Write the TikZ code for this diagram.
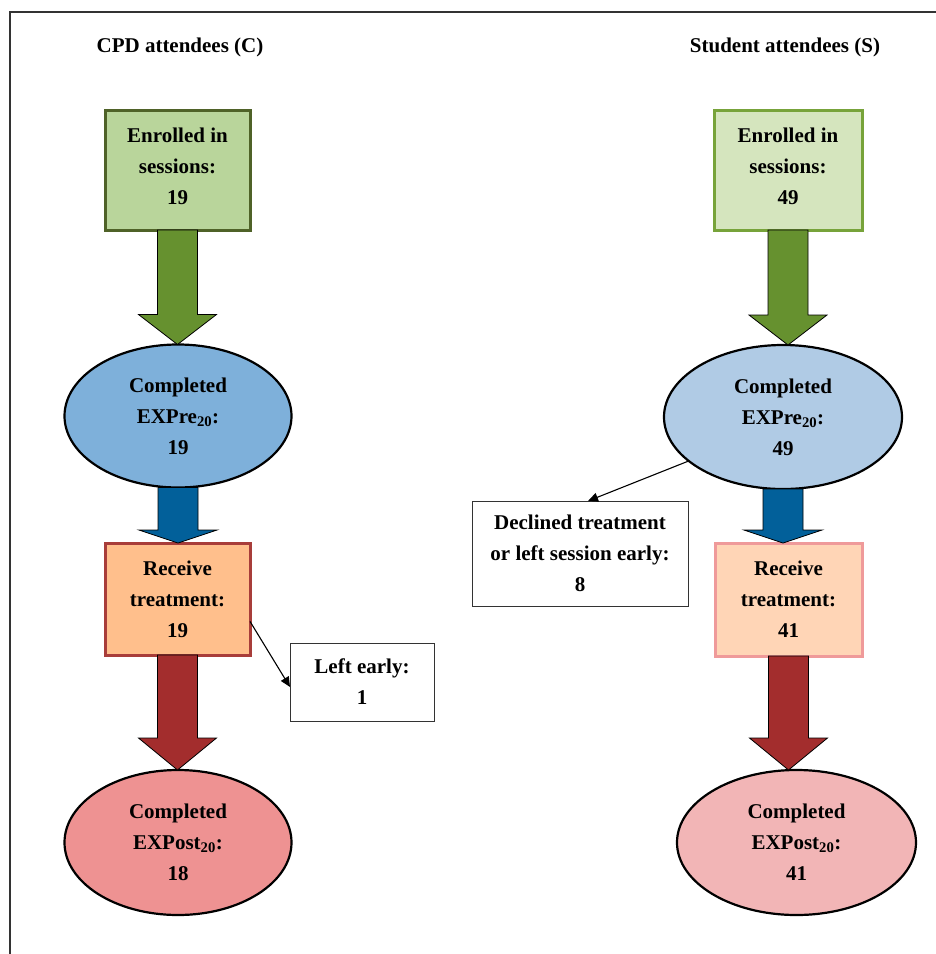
\documentclass[tikz,border=0pt]{standalone}
\usepackage{fontspec}
\setmainfont{Liberation Serif}
\usetikzlibrary{calc,shapes.geometric,arrows.meta}
\definecolor{gDark}{HTML}{4F6228}
\definecolor{gLight}{HTML}{77A33A}
\definecolor{gFillA}{HTML}{B9D59B}
\definecolor{gFillB}{HTML}{D5E5BE}
\definecolor{gArrow}{HTML}{66912F}
\definecolor{bFillA}{HTML}{7EB0DA}
\definecolor{bFillB}{HTML}{B0CBE5}
\definecolor{bArrow}{HTML}{02609A}
\definecolor{oFillA}{HTML}{FFBF8C}
\definecolor{oFillB}{HTML}{FFD5B6}
\definecolor{rDark}{HTML}{A83D3A}
\definecolor{rLight}{HTML}{EF9A9A}
\definecolor{rArrow}{HTML}{A32D2D}
\definecolor{pFillA}{HTML}{EE9292}
\definecolor{pFillB}{HTML}{F2B5B6}
\definecolor{frameC}{HTML}{333333}
\newcommand\blockarrow[4]{%
  \draw[fill=#3, line width=0.8pt, line join=miter] let \p1=(#1.south), \p2=(#2.north) in
    (\x1-20pt,\y1) -- (\x1+20pt,\y1) -- (\x1+20pt,\y2+#4) -- (\x1+39pt,\y2+#4)
    -- (\x1,\y2) -- (\x1-39pt,\y2+#4) -- (\x1-20pt,\y2+#4) -- cycle;}
\begin{document}
\begin{tikzpicture}[x=1pt,y=-1pt,
  txt/.style={font=\fontsize{21}{31}\selectfont\bfseries, align=center, text=black},
  boxA/.style={txt, draw, rectangle, inner sep=0pt, outer sep=0pt},
  ell/.style={txt, draw=black, ellipse, line width=2.2pt, inner sep=0pt, outer sep=0pt},
  note/.style={txt, draw=frameC, rectangle, line width=1pt, inner sep=0pt, outer sep=0pt},
  side/.style={draw=black, line width=1.1pt, -{Triangle[length=10pt,width=9pt]}}]
\useasboundingbox (0,0) rectangle (936,954);
\draw[frameC, line width=1.3pt] (10,954) -- (10,12) -- (936,12);

\node[txt] (tc) at (180,47) {CPD attendees (C)};
\node[txt] (ts) at (785,47) {Student attendees (S)};

% left column
\node[boxA, draw=gDark, fill=gFillA, line width=3pt, minimum width=145pt, minimum height=120pt] (e1) at (177.5,170) {};
\node[txt] (e1t) at ($(e1.center)+(0,-4)$) {Enrolled in\\sessions:\\19};
\node[ell, fill=bFillA, minimum width=227pt, minimum height=143pt] (p1) at (178,416) {Completed\\EXPre\textsubscript{20}:\\19};
\node[boxA, draw=rDark, fill=oFillA, line width=3pt, minimum width=145pt, minimum height=112pt] (r1) at (177.5,599) {Receive\\treatment:\\19};
\node[ell, fill=pFillA, minimum width=227pt, minimum height=145pt] (q1) at (178,842.5) {Completed\\EXPost\textsubscript{20}:\\18};
\node[note, minimum width=144pt, minimum height=78pt] (le) at (362,682) {Left early:\\1};

% right column
\node[boxA, draw=gLight, fill=gFillB, line width=3pt, minimum width=148pt, minimum height=120pt] (e2) at (788,170) {};
\node[txt] (e2t) at ($(e2.center)+(0,-4)$) {Enrolled in\\sessions:\\49};
\node[ell, fill=bFillB, minimum width=238pt, minimum height=144pt] (p2) at (783,417) {Completed\\EXPre\textsubscript{20}:\\49};
\node[boxA, draw=rLight, fill=oFillB, line width=3pt, minimum width=147pt, minimum height=113pt] (r2) at (788.5,599.5) {Receive\\treatment:\\41};
\node[ell, fill=pFillB, minimum width=239pt, minimum height=145pt] (q2) at (796.5,842.5) {Completed\\EXPost\textsubscript{20}:\\41};
\node[note, minimum width=216pt, minimum height=105pt] (dc) at (580,553.5) {Declined treatment\\or left session early:\\8};

% block arrows
\blockarrow{e1}{p1}{gArrow}{30pt}
\blockarrow{p1}{r1}{bArrow}{13pt}
\blockarrow{r1}{q1}{rArrow}{32pt}
\blockarrow{e2}{p2}{gArrow}{30pt}
\blockarrow{p2}{r2}{bArrow}{13pt}
\blockarrow{r2}{q2}{rArrow}{32pt}

% side arrows
\draw[side] ($(r1.north east)!0.7!(r1.south east)$) -- ($(le.west)+(0,5)$);
\draw[side] (p2.205) -- ($(dc.north)+(8,0)$);
\end{tikzpicture}
\end{document}
